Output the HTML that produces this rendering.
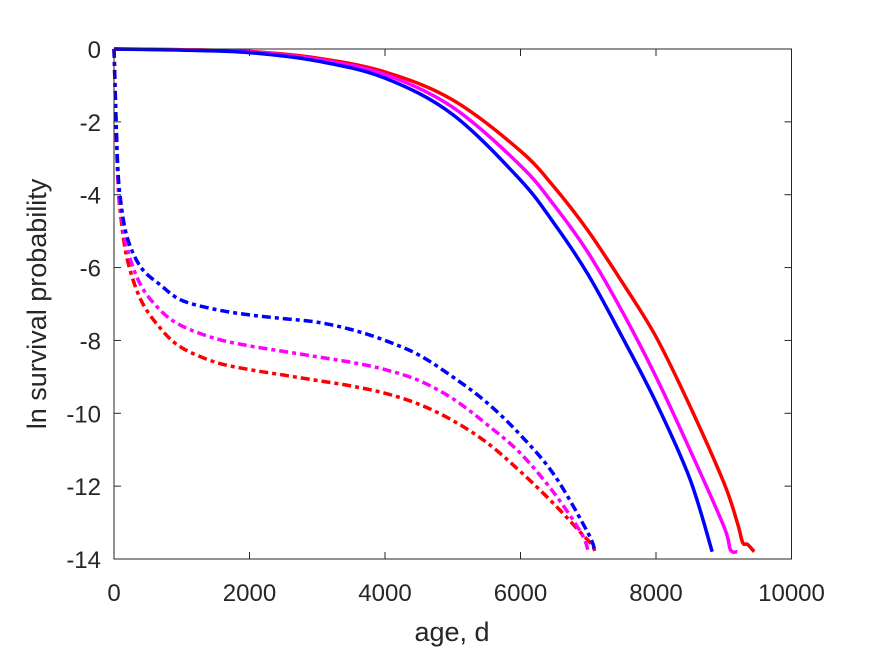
<!DOCTYPE html>
<html><head><meta charset="utf-8"><style>
body{margin:0;background:#fff;}
svg text{font-family:"Liberation Sans",sans-serif;fill:#262626;}
</style></head><body>
<svg width="875" height="656" xmlns="http://www.w3.org/2000/svg">
<rect x="0" y="0" width="875" height="656" fill="#fff"/>
<g id="plot"></g>
<g id="axes"></g>
<text x="452" y="641" font-size="27" text-anchor="middle">age, d</text>
<text transform="translate(46,304) rotate(-90)" font-size="27" text-anchor="middle">ln survival probability</text>
</svg>
<script>
const xTicks=[0,2000,4000,6000,8000,10000];
const yTicks=[0,-2,-4,-6,-8,-10,-12,-14];
const solidRedX=[0,1000,2000,3000,4000,5000,6000,6500,7000,7500,8000,8500,9000,9200,9280,9350,9450];
const solidRedY=[0,-0.02,-0.07,-0.25,-0.63,-1.4,-2.8,-3.8,-5.0,-6.4,-7.9,-9.8,-11.9,-13.0,-13.55,-13.6,-13.8];
const solidMagX=[0,1000,2000,3000,4000,5000,6000,6500,7000,7500,8000,8500,9000,9100,9200];
const solidMagY=[0,-0.02,-0.08,-0.28,-0.7,-1.6,-3.2,-4.3,-5.6,-7.2,-9.0,-11,-13.1,-13.75,-13.8];
const solidBlueX=[0,1000,2000,3000,4000,5000,6000,6500,7000,7500,8000,8500,8830];
const solidBlueY=[0,-0.03,-0.1,-0.33,-0.8,-1.8,-3.6,-4.8,-6.2,-7.9,-9.7,-11.8,-13.8];
const dashRedX=[0,50,100,200,400,700,1000,1500,2000,2500,3000,3500,4000,4500,5000,5500,6000,6500,6900,7050,7100];
const dashRedY=[0,-3.3,-4.6,-5.8,-6.9,-7.7,-8.2,-8.6,-8.8,-8.95,-9.1,-9.25,-9.45,-9.75,-10.2,-10.8,-11.6,-12.5,-13.3,-13.6,-13.8];
const dashMagX=[0,50,100,200,400,700,1000,1500,2000,2500,3000,3500,4000,4500,5000,5500,6000,6500,6900,7000];
const dashMagY=[0,-3.2,-4.4,-5.5,-6.5,-7.2,-7.6,-7.95,-8.15,-8.3,-8.45,-8.6,-8.8,-9.1,-9.6,-10.3,-11.1,-12.2,-13.3,-13.8];
const dashBlueX=[0,50,100,200,400,700,1000,1500,2000,2500,3000,3500,4000,4500,5000,5500,6000,6500,7000,7100];
const dashBlueY=[0,-3,-4.2,-5.2,-6.0,-6.5,-6.9,-7.15,-7.3,-7.4,-7.5,-7.7,-8.0,-8.4,-9.0,-9.7,-10.6,-11.7,-13.3,-13.8];

const L=114,R=791.5,T=49,B=559;
const sx=v=>L+(v-0)/10000*(R-L);
const sy=v=>T+(0-v)/14*(B-T);
const NS="http://www.w3.org/2000/svg";
const plot=document.getElementById('plot'),axes=document.getElementById('axes');
function mk(tag,attrs,parent){const e=document.createElementNS(NS,tag);for(const k in attrs)e.setAttribute(k,attrs[k]);parent.appendChild(e);return e;}
function smooth(xs,ys){
 const p=xs.map((x,i)=>[sx(x),sy(ys[i])]);
 let d='M'+p[0][0].toFixed(1)+','+p[0][1].toFixed(1);
 for(let i=0;i<p.length-1;i++){
  const p0=p[Math.max(0,i-1)],p1=p[i],p2=p[i+1],p3=p[Math.min(p.length-1,i+2)];
  const c1=[p1[0]+(p2[0]-p0[0])/6,p1[1]+(p2[1]-p0[1])/6];
  const c2=[p2[0]-(p3[0]-p1[0])/6,p2[1]-(p3[1]-p1[1])/6];
  d+='C'+c1[0].toFixed(1)+','+c1[1].toFixed(1)+' '+c2[0].toFixed(1)+','+c2[1].toFixed(1)+' '+p2[0].toFixed(1)+','+p2[1].toFixed(1);
 }
 return d;
}
const series=[
 [dashRedX,dashRedY,'#ff0000',true,'dashdot-red-line'],
 [dashMagX,dashMagY,'#ff00ff',true,'dashdot-magenta-line'],
 [dashBlueX,dashBlueY,'#0000ff',true,'dashdot-blue-line'],
 [solidRedX,solidRedY,'#ff0000',false,'solid-red-line'],
 [solidMagX,solidMagY,'#ff00ff',false,'solid-magenta-line'],
 [solidBlueX,solidBlueY,'#0000ff',false,'solid-blue-line']];
series.forEach(s=>{
 const p=mk('path',{d:smooth(s[0],s[1]),fill:'none',stroke:s[2],'stroke-width':3.5,'stroke-linejoin':'round'},plot);
 if(s[3])p.setAttribute('stroke-dasharray','9,4,4,4');
 
 
});
const box=mk('rect',{x:L,y:T,width:R-L,height:B-T,fill:'none',stroke:'#262626','stroke-width':1},axes);


xTicks.forEach(v=>{
 mk('line',{x1:sx(v),x2:sx(v),y1:B,y2:B-7,stroke:'#262626'},axes);
 mk('line',{x1:sx(v),x2:sx(v),y1:T,y2:T+7,stroke:'#262626'},axes);
 const t=mk('text',{x:sx(v),y:B+42,'font-size':24,'text-anchor':'middle'},axes);
 t.textContent=v;
 
 
});
yTicks.forEach(v=>{
 mk('line',{x1:L,x2:L+7,y1:sy(v),y2:sy(v),stroke:'#262626'},axes);
 mk('line',{x1:R,x2:R-7,y1:sy(v),y2:sy(v),stroke:'#262626'},axes);
 const t=mk('text',{x:L-13,y:sy(v)+9,'font-size':24,'text-anchor':'end'},axes);
 t.textContent=v;
 
 
});
</script>
</body></html>
